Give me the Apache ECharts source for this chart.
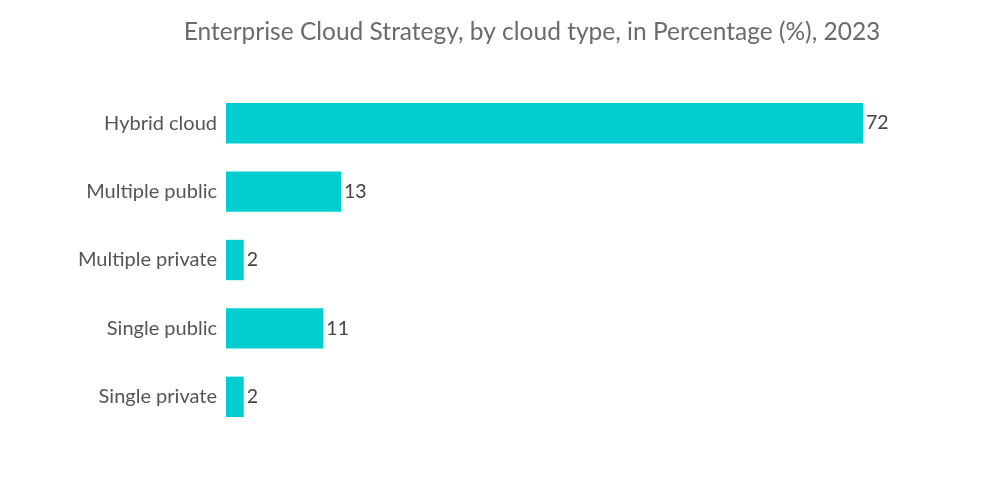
<!DOCTYPE html>
<html><head><meta charset="utf-8">
<script src="https://cdn.jsdelivr.net/npm/echarts@6/dist/echarts.min.js"></script>
<style>html,body{margin:0;padding:0;background:#fff}#c{width:1000px;height:504px}</style>
</head><body><div id="c"></div>
<script>
const titleText = 'Enterprise Cloud Strategy, by cloud type, in Percentage (%), 2023';
const categories = ['Hybrid cloud', 'Multiple public', 'Multiple private', 'Single public', 'Single private'];
const values = [72, 13, 2, 11, 2];

const chart = echarts.init(document.getElementById('c'));
chart.setOption({
  animation: false,
  backgroundColor: '#fff',
  title: {
    text: titleText, left: 527, textAlign: 'center', top: 15,
    textStyle: { fontFamily: 'Lato', fontWeight: 'normal', fontSize: 24.5, color: '#6b6b6b' }
  },
  grid: { left: 226, right: 137, top: 89, bottom: 73, containLabel: false },
  xAxis: { type: 'value', min: 0, max: 72, show: false },
  yAxis: {
    type: 'category', data: categories, inverse: true,
    axisLine: { show: false }, axisTick: { show: false },
    axisLabel: { fontFamily: 'Lato', fontSize: 20, color: '#555', margin: 9 }
  },
  series: [{
    type: 'bar', data: values, barCategoryGap: '41%',
    itemStyle: { color: '#00CED1' },
    label: { show: true, position: 'right', distance: 3, fontFamily: 'Lato', fontSize: 19.5, color: '#444' }
  }]
});
</script></body></html>
